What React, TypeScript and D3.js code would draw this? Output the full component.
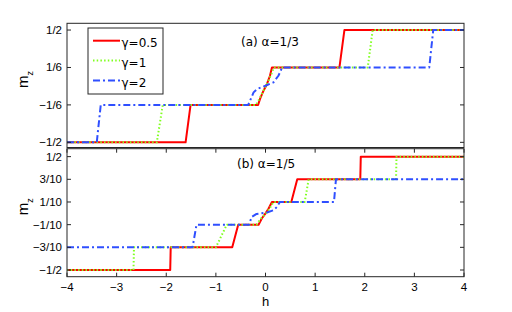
import * as d3 from 'd3';

// h axis
const hTicks = [-4, -3, -2, -1, 0, 1, 2, 3, 4];

// panel (a): alpha = 1/3
const ticksA = [-1 / 2, -1 / 6, 1 / 6, 1 / 2];
const tickLabelsA = ['\u22121/2', '\u22121/6', '1/6', '1/2'];
const redA: [number, number][] = [
  [-4, -1 / 2], [-1.61, -1 / 2], [-1.51, -1 / 6], [-0.15, -1 / 6], [-0.11, -0.113],
  [-0.04, -0.04], [0.03, 0.02], [0.09, 0.093], [0.13, 1 / 6], [1.49, 1 / 6],
  [1.59, 1 / 2], [4, 1 / 2],
];
const greenA: [number, number][] = [
  [-4, -1 / 2], [-2.19, -1 / 2], [-2.07, -1 / 6], [-0.19, -1 / 6], [-0.12, -0.11],
  [-0.03, -0.03], [0.05, 0.04], [0.12, 0.11], [0.17, 1 / 6], [2.06, 1 / 6],
  [2.16, 1 / 2], [4, 1 / 2],
];
const blueA: [number, number][] = [
  [-4, -1 / 2], [-3.4, -1 / 2], [-3.32, -1 / 6], [-0.35, -1 / 6], [-0.31, -0.128],
  [-0.24, -0.055], [-0.17, -0.025], [0, 0.004], [0.16, 0.034], [0.26, 0.093],
  [0.31, 0.14], [0.33, 1 / 6], [3.3, 1 / 6], [3.38, 1 / 2], [4, 1 / 2],
];

// panel (b): alpha = 1/5
const ticksB = [-1 / 2, -3 / 10, -1 / 10, 1 / 10, 3 / 10, 1 / 2];
const tickLabelsB = ['\u22121/2', '\u22123/10', '\u22121/10', '1/10', '3/10', '1/2'];
const redB: [number, number][] = [
  [-4, -1 / 2], [-1.92, -1 / 2], [-1.91, -3 / 10], [-0.67, -3 / 10], [-0.55, -1 / 10],
  [-0.14, -1 / 10], [-0.075, -0.046], [0, 0], [0.06, 0.04], [0.13, 1 / 10],
  [0.52, 1 / 10], [0.64, 3 / 10], [1.91, 3 / 10], [1.92, 1 / 2], [4, 1 / 2],
];
const greenB: [number, number][] = [
  [-4, -1 / 2], [-2.66, -1 / 2], [-2.65, -3 / 10], [-1.0, -3 / 10], [-0.78, -1 / 10],
  [-0.18, -1 / 10], [-0.1, -0.05], [0, -0.005], [0.08, 0.04], [0.16, 1 / 10],
  [0.79, 1 / 10], [0.87, 3 / 10], [2.63, 3 / 10], [2.64, 1 / 2], [4, 1 / 2],
];
const blueB: [number, number][] = [
  [-4, -3 / 10], [-1.47, -3 / 10], [-1.39, -1 / 10], [-0.33, -1 / 10], [-0.28, -0.032],
  [-0.18, -0.005], [0.03, 0.007], [0.16, 0.027], [0.23, 0.056], [0.29, 1 / 10],
  [1.38, 1 / 10], [1.42, 3 / 10], [4, 3 / 10],
];

const seriesNames = ['\u03b3=0.5', '\u03b3=1', '\u03b3=2'];
const colors = ['#ff0000', '#80ff20', '#2f4fff'];
const dashes = ['none', '1.5,2.2', '7,3,2,3'];

const FONT = '"Liberation Sans", Arial, sans-serif';
const FONT_TXT = '"DejaVu Sans", sans-serif';
const W = 512;
const H = 312;
const x0 = 67;
const x1 = 464;

const x = d3.scaleLinear().domain([-4, 4]).range([x0, x1]);

function Panel({ top, bottom, yDomain, ticks, labels, series, title, titleX, titleY, showX }: {
  top: number; bottom: number; yDomain: [number, number]; ticks: number[]; labels: string[];
  series: [number, number][][]; title: string; titleX: number; titleY: number; showX: boolean;
}) {
  const y = d3.scaleLinear().domain(yDomain).range([bottom, top]);
  const line = d3.line<[number, number]>().x(d => x(d[0])).y(d => y(d[1]));
  const mid = (top + bottom) / 2;
  return (
    <g>
      <defs>
        <clipPath id={`clip-${Math.round(top)}`}>
          <rect x={x0} y={top} width={x1 - x0} height={bottom - top} />
        </clipPath>
      </defs>
      <g clipPath={`url(#clip-${Math.round(top)})`}>
        {series.map((s, i) => (
          <path key={i} d={line(s) ?? ''} fill="none" stroke={colors[i]} strokeWidth={2}
            strokeDasharray={dashes[i]} strokeLinejoin="round" />
        ))}
      </g>
      <rect x={x0} y={top} width={x1 - x0} height={bottom - top} fill="none" stroke="#262626" strokeWidth={1} />
      {ticks.map((t, i) => (
        <g key={i}>
          <line x1={x0} x2={x0 + 4} y1={y(t)} y2={y(t)} stroke="#262626" />
          <line x1={x1} x2={x1 - 4} y1={y(t)} y2={y(t)} stroke="#262626" />
          <text x={x0 - 5} y={y(t)} dy="0.35em" textAnchor="end" fontSize={11.5} fontFamily={FONT}>{labels[i]}</text>
        </g>
      ))}
      {showX && hTicks.map(t => (
        <g key={t}>
          <line x1={x(t)} x2={x(t)} y1={bottom} y2={bottom - 4} stroke="#262626" />
          <line x1={x(t)} x2={x(t)} y1={top} y2={top + 4} stroke="#262626" />
          <text x={x(t)} y={bottom + 10} dy="0.35em" textAnchor="middle" fontSize={11.5} fontFamily={FONT}>
            {t < 0 ? `\u2212${-t}` : t}
          </text>
        </g>
      ))}
      <text transform={`translate(28,${mid - 6}) rotate(-90)`} textAnchor="middle" fontSize={15} fontFamily={FONT}>
        m<tspan fontSize={9} dy={5}>z</tspan>
      </text>
      <text x={titleX} y={titleY} fontSize={12} fontFamily={FONT_TXT}>{title}</text>
    </g>
  );
}

export default function App() {
  const legendY = [40.7, 60.5, 80.5];
  const legendBase = [46.7, 66.7, 86.8];
  return (
    <svg width={W} height={H} style={{ position: 'absolute', left: 0, top: 0, background: '#fff' }}>
      <rect width={W} height={H} fill="#fff" />
      <Panel top={23.3} bottom={147.5} yDomain={[-0.546, 0.56]} ticks={ticksA} labels={tickLabelsA}
        series={[redA, greenA, blueA]} title={'(a) \u03b1=1/3'} titleX={241} titleY={46} showX={false} />
      <Panel top={148.7} bottom={276.7} yDomain={[-0.559, 0.57]} ticks={ticksB} labels={tickLabelsB}
        series={[redB, greenB, blueB]} title={'(b) \u03b1=1/5'} titleX={237} titleY={168} showX={true} />
      <text x={x(0)} y={306} textAnchor="middle" fontSize={13} fontFamily={FONT}>h</text>
      <g>
        <rect x={88} y={28} width={75} height={66} fill="#fff" stroke="#262626" strokeWidth={1} />
        {seriesNames.map((n, i) => (
          <g key={i}>
            <line x1={93} x2={120} y1={legendY[i]} y2={legendY[i]} stroke={colors[i]} strokeWidth={2}
              strokeDasharray={dashes[i]} />
            <text x={121.5} y={legendBase[i]} fontSize={12} fontFamily={FONT_TXT}>{n}</text>
          </g>
        ))}
      </g>
    </svg>
  );
}
